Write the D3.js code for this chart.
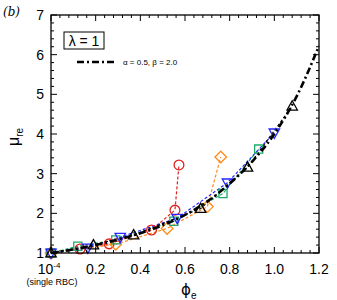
<!DOCTYPE html>
<html><head><meta charset="utf-8">
<script src="https://cdn.jsdelivr.net/npm/d3@7"></script>
<style>body{margin:0;background:#fff}svg{display:block}</style>
</head><body>
<svg id="c" width="337" height="300"></svg>
<script>
// Data
const redX = [0, 0.13, 0.26, 0.45, 0.555, 0.573];
const redY = [1, 1.10, 1.23, 1.58, 2.08, 3.22];
const orangeX = [0, 0.29, 0.52, 0.70, 0.76];
const orangeY = [1, 1.22, 1.62, 2.17, 3.42];
const greenX = [0, 0.12, 0.29, 0.55, 0.77, 0.93];
const greenY = [1, 1.17, 1.33, 1.80, 2.50, 3.62];
const blueX = [0, 0.165, 0.31, 0.565, 0.79, 1.0];
const blueY = [1, 1.13, 1.40, 1.88, 2.77, 4.03];
const blackX = [0, 0.19, 0.37, 0.67, 0.88, 1.08];
const blackY = [1, 1.20, 1.45, 2.12, 3.16, 4.70];
const modelX = [0, 0.1, 0.2, 0.3, 0.4, 0.5, 0.6, 0.7, 0.8, 0.9, 1.0, 1.1, 1.2];
const modelY = [1, 1.09, 1.20, 1.34, 1.50, 1.70, 1.96, 2.30, 2.75, 3.30, 4.00, 4.95, 6.22];
const xTicks = [0, 0.2, 0.4, 0.6, 0.8, 1.0, 1.2];
const xTickLabels = ["10", "0.2", "0.4", "0.6", "0.8", "1.0", "1.2"];
const yTicks = [1, 2, 3, 4, 5, 6, 7];

const svg = d3.select("#c");
const L = 51, R = 319, T = 15, B = 253;
const x = d3.scaleLinear().domain([0, 1.2]).range([L, R]);
const y = d3.scaleLinear().domain([1, 7]).range([B, T]);
const font = "'Liberation Sans', Arial, sans-serif";

const series = [
  {xs: redX, ys: redY, color: "#e0201c", shape: "circle"},
  {xs: orangeX, ys: orangeY, color: "#ff8a1c", shape: "diamond"},
  {xs: greenX, ys: greenY, color: "#1faa6a", shape: "square"},
  {xs: blueX, ys: blueY, color: "#2626ff", shape: "tridown"},
  {xs: blackX, ys: blackY, color: "#000000", shape: "triup"}
];

const line = d3.line().x(d => x(d[0])).y(d => y(d[1]));
series.forEach(s => {
  const pts = s.xs.map((v, i) => [v, s.ys[i]]);
  svg.append("path").attr("d", line(pts)).attr("fill", "none")
    .attr("stroke", s.color).attr("stroke-width", 1.2).attr("stroke-dasharray", "3,2");
});

function sym(shape) {
  if (shape === "circle") return d3.symbol(d3.symbolCircle, 75)();
  if (shape === "square") return d3.symbol(d3.symbolSquare, 66)();
  if (shape === "diamond") return "M0,-5.8L5.8,0L0,5.8L-5.8,0Z";
  if (shape === "triup") return "M0,-5.5L5.2,3.8L-5.2,3.8Z";
  if (shape === "tridown") return "M0,5.5L5.2,-3.8L-5.2,-3.8Z";
}
series.forEach(s => {
  s.xs.forEach((v, i) => {
    svg.append("path").attr("d", sym(s.shape))
      .attr("transform", `translate(${x(v)},${y(s.ys[i])})`)
      .attr("fill", "none").attr("stroke", s.color).attr("stroke-width", 1.3);
  });
});

// model curve
const modelPts = modelX.map((v, i) => [v, modelY[i]]);
svg.append("path").attr("d", d3.line().curve(d3.curveMonotoneX).x(d => x(d[0])).y(d => y(d[1]))(modelPts))
  .attr("fill", "none").attr("stroke", "#000").attr("stroke-width", 2.6)
  .attr("stroke-dasharray", "7,3,2,3");

// frame
svg.append("rect").attr("x", L).attr("y", T).attr("width", R - L).attr("height", B - T)
  .attr("fill", "none").attr("stroke", "#000").attr("stroke-width", 1.3);

// ticks
const g = svg.append("g").attr("stroke", "#000").attr("stroke-width", 1);
d3.range(0, 1.2001, 0.04).forEach(v => {
  const major = Math.abs(v / 0.2 - Math.round(v / 0.2)) < 1e-6;
  const len = major ? 6 : 3;
  g.append("line").attr("x1", x(v)).attr("x2", x(v)).attr("y1", B).attr("y2", B - len);
  g.append("line").attr("x1", x(v)).attr("x2", x(v)).attr("y1", T).attr("y2", T + len);
});
d3.range(1, 7.0001, 0.2).forEach(v => {
  const major = Math.abs(v - Math.round(v)) < 1e-6;
  const len = major ? 6 : 3;
  g.append("line").attr("x1", L).attr("x2", L + len).attr("y1", y(v)).attr("y2", y(v));
  g.append("line").attr("x1", R).attr("x2", R - len).attr("y1", y(v)).attr("y2", y(v));
});

// tick labels
xTicks.forEach((v, i) => {
  const t = svg.append("text").attr("x", x(v) + (i === 0 ? -2 : 0)).attr("y", 274)
    .attr("text-anchor", "middle").attr("font-family", font).attr("font-size", 14).text(xTickLabels[i]);
  if (i === 0) t.append("tspan").attr("dy", -6).attr("font-size", 8).text("-4");
});
svg.append("text").attr("x", 52).attr("y", 285).attr("text-anchor", "middle")
  .attr("font-family", font).attr("font-size", 9).text("(single RBC)");
yTicks.forEach(v => {
  svg.append("text").attr("x", 44).attr("y", y(v) + 5).attr("text-anchor", "end")
    .attr("font-family", font).attr("font-size", 14).text(v);
});

// axis titles
const xt = svg.append("text").attr("x", 181).attr("y", 295).attr("font-family", "'DejaVu Sans', sans-serif").attr("font-size", 15).text("ϕ");
xt.append("tspan").attr("dy", 4).attr("font-family", font).attr("font-size", 10).text("e");
const yt = svg.append("text").attr("transform", "translate(19,137) rotate(-90)").attr("text-anchor", "middle")
  .attr("font-family", font).attr("font-size", 16).text("μ");
yt.append("tspan").attr("dy", 4).attr("font-size", 10).text("re");

// panel label
svg.append("text").attr("x", 3).attr("y", 16).attr("font-family", "'DejaVu Serif', serif")
  .attr("font-style", "italic").attr("font-size", 12).text("(b)");

// legend
svg.append("rect").attr("x", 64).attr("y", 32).attr("width", 40).attr("height", 17)
  .attr("fill", "#fff").attr("stroke", "#000").attr("stroke-width", 1);
svg.append("text").attr("x", 84).attr("y", 46).attr("text-anchor", "middle")
  .attr("font-family", font).attr("font-size", 14).text("λ = 1");
svg.append("line").attr("x1", 77).attr("x2", 117).attr("y1", 62).attr("y2", 62)
  .attr("stroke", "#000").attr("stroke-width", 2.6).attr("stroke-dasharray", "7,3,2,3");
svg.append("text").attr("x", 123).attr("y", 65).attr("font-family", font).attr("font-size", 8)
  .text("α = 0.5, β = 2.0");
</script>
</body></html>
